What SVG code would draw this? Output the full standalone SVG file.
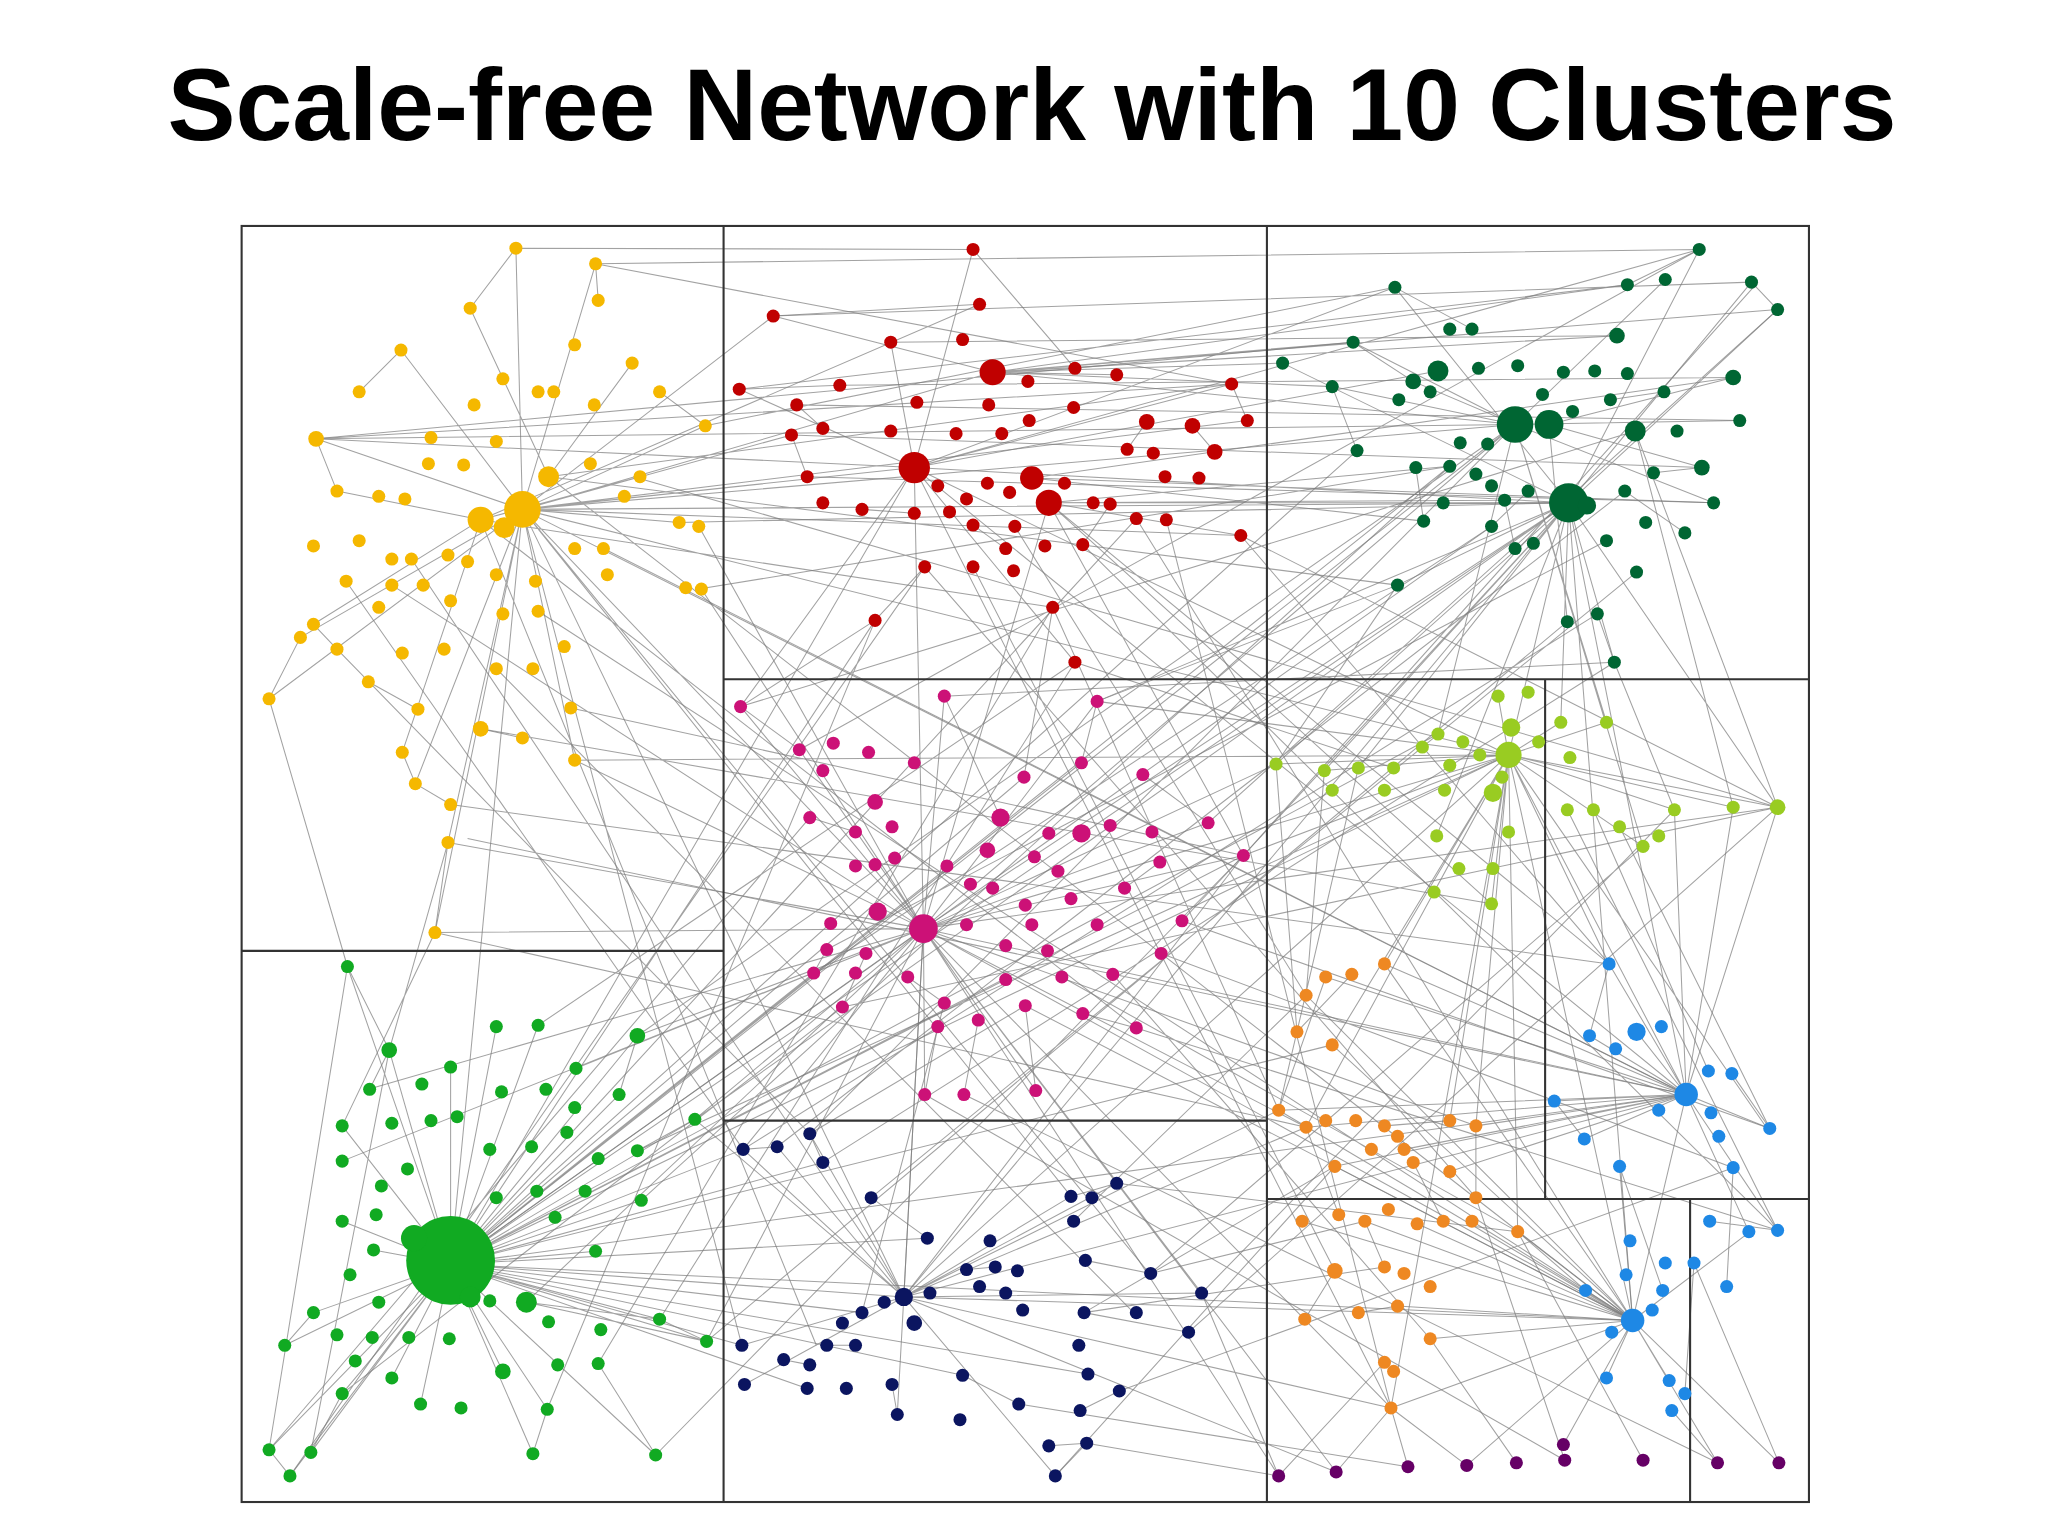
<svg xmlns="http://www.w3.org/2000/svg" width="2048" height="1536" viewBox="0 0 2048 1536">
<style>
.e{fill:none;stroke:#7a7a7a;stroke-width:0.8;stroke-opacity:0.7}
.b{fill:none;stroke:#333;stroke-width:1.6}
.y circle{fill:#f5b800}.r circle{fill:#c00000}.dg circle{fill:#006633}.m circle{fill:#cc1177}
.lg circle{fill:#99cc22}.o circle{fill:#ee8822}.bl circle{fill:#1e88e5}.p circle{fill:#660066}
.g circle{fill:#11aa22}.n circle{fill:#0b1560}
</style>
<rect width="2048" height="1536" fill="#fff"/>
<text x="1032" y="140" text-anchor="middle" font-family="Liberation Sans, Arial, sans-serif" font-weight="bold" font-size="102" fill="#000">Scale-free Network with 10 Clusters</text>
<g transform="scale(1.3061)">
<g id="connectors">
<path class="e" d="M400 390L395 190M400 390L456 202M400 390L307 268M400 390L242 336M400 390L540 326M400 390L206 535M400 390L333 714M400 390L343 645M400 390L700 358M400 390L760 285M400 390L707 711M400 390L345 968M400 390L1201 385M400 390L1160 325M400 390L692 993M400 390L1155 578M400 390L820 916M400 390L568 1030M400 390L440 582M400 390L230 488M400 390L520 400M400 390L955 322M400 390L1291 838M400 390L880 975M400 390L606 333M400 390L950 410M400 390L318 600M400 390L592 242M368 398L258 376M368 398L240 478M368 398L308 576M368 398L490 365M368 398L750 233M368 398L806 465M368 398L625 1030M368 398L870 787M420 365L360 236M420 365L484 278M420 365L943 294M420 365L1250 1011M420 365L1070 448M242 336L700 358M242 336L1036 262M395 190L745 191M456 202L943 294M206 535L266 740M333 714L262 862M343 645L298 804"/>
<path class="e" d="M700 358L566 298M700 358L745 191M700 358L682 262M700 358L943 294M700 358L1068 220M700 358L1301 191M700 358L1101 284M700 358L1201 385M700 358L707 711M700 358L1155 578M700 358L567 541M700 358L823 507M700 358L1291 838M700 358L345 968M700 358L1065 1078M760 285L592 242M760 285L855 287M760 285L1160 325M760 285L1246 218M760 285L1361 237M760 285L982 278M760 285L1020 296M760 285L1036 262M760 285L1238 257M803 385L950 410M803 385L1110 357M803 385L1152 383M803 385L1201 385M803 385L707 711M803 385L1142 692M803 385L1232 738M803 385L952 655M790 366L1090 399M790 366L1312 385M790 366L1327 289M823 507L1067 588M670 475L567 541M806 465L784 595"/>
<path class="e" d="M1201 385L1301 191M1201 385L1341 216M1201 385L1068 220M1201 385L1236 507M1201 385L1070 448M1201 385L982 278M1201 385L1155 578M1201 385L1291 838M1201 385L1250 1011M1201 385L707 711M1201 385L345 968M1201 385L692 993M1201 385L1195 553M1201 385L977 585M1201 385L1361 618M1201 385L1040 588M1201 385L1014 590M1201 385L1100 640M1201 385L952 655M1201 385L840 537M1201 385L1361 237M1160 325L1275 214M1160 325L1036 262M1160 325L1082 292M1160 325L1332 322M1160 325L1312 385M1160 325L1020 296M1160 325L707 711M1160 325L345 968M1160 325L620 868M1160 325L1230 553M1160 325L1258 648M1160 325L1101 562M1186 325L1303 358M1186 325L1327 289M1186 325L1200 476M1252 330L1361 618M1252 330L1327 618M1236 507L1282 620M1070 448L977 585"/>
<path class="e" d="M707 711L567 541M707 711L723 533M707 711L840 537M707 711L612 574M707 711L952 655M707 711L925 630M707 711L708 838M707 711L793 835M707 711L569 880M707 711L855 906M707 711L345 968M707 711L1155 578M707 711L1291 838M707 711L1250 1011M707 711L1065 1078M707 711L977 585M707 711L441 818M707 711L532 857M707 711L488 793M707 711L403 997M707 711L692 993M707 711L920 990M707 711L1000 863M707 711L541 1027M707 711L1361 618M707 711L1130 862M707 711L282 834M707 711L262 889M707 711L1023 1127M707 711L979 1130M707 711L333 714M707 711L343 645M707 711L440 582M707 711L537 451M707 711L535 403"/>
<path class="e" d="M345 968L266 740M345 968L298 804M345 968L345 817M345 968L380 786M345 968L412 785M345 968L488 793M345 968L532 857M345 968L262 862M345 968L262 935M345 968L240 1005M345 968L218 1030M345 968L206 1110M345 968L222 1130M345 968L238 1112M345 968L408 1113M345 968L502 1114M345 968L541 1027M345 968L505 1010M345 968L262 1067M345 968L419 1079M345 968L491 919M345 968L569 880M345 968L630 890M345 968L568 1030M345 968L692 993M345 968L784 595M345 968L952 655M345 968L1155 578M345 968L1291 838M345 968L1250 1011M345 968L828 584M345 968L870 397M345 968L1039 345M345 968L1110 357M345 968L1142 403M345 968L1101 562M345 968L1020 800M345 968L833 1052M345 968L737 1053M345 968L618 1063M345 968L660 1005M345 968L710 948M345 968L770 750M345 968L623 745M345 968L456 958M345 968L474 838M345 968L300 1055M345 968L322 1075M345 968L385 1050M345 968L286 957M403 997L541 1027M403 997L505 1010M266 740L206 1110M298 804L238 1112"/>
<path class="e" d="M692 993L569 880M692 993L595 878M692 993L620 868M692 993L820 916M692 993L855 906M692 993L920 990M692 993L808 1130M692 993L570 1060M692 993L568 1030M692 993L687 1083M692 993L1065 1078M692 993L1155 578M692 993L1291 838M692 993L1250 1011M692 993L1023 1127M692 993L1000 863M692 993L979 850M692 993L532 857M692 993L952 655M692 993L707 711M830 1005L1022 893M830 1005L1060 970M830 1005L910 1020M822 935L1000 762M881 975L1045 935M920 990L979 1130M855 906L1162 943M620 868L785 770M660 1005L723 768M780 1075L1078 1123M832 1105L979 1130"/>
<path class="e" d="M1155 578L1147 533M1155 578L1195 553M1155 578L1230 553M1155 578L977 585M1155 578L1014 590M1155 578L1361 618M1155 578L1327 618M1155 578L1142 692M1155 578L1098 683M1155 578L1060 738M1155 578L1291 838M1155 578L1250 1011M1155 578L1065 1078M1155 578L1130 862M1155 578L1000 863M1155 578L1232 738M1155 578L952 655M1155 578L840 537M1155 578L1282 620M1155 578L1258 648M1155 578L1353 864M1155 578L1162 943M1155 578L1020 800M1155 578L1110 858M1200 620L1361 942M1240 633L1355 864M1220 620L1308 820M977 585L993 790M1014 590L1000 762M1040 588L979 850"/>
<path class="e" d="M1291 838L1232 738M1291 838L1217 793M1291 838L1253 790M1291 838L1190 843M1291 838L1213 872M1291 838L1355 864M1291 838L1361 942M1291 838L1339 943M1291 838L1250 1011M1291 838L1130 862M1291 838L1110 897M1291 838L1075 880M1291 838L1022 893M1291 838L1000 863M1291 838L979 850M1291 838L1015 748M1291 838L1060 738M1291 838L1361 618M1291 838L1327 618M1291 838L1282 620M1250 1011L1214 988M1250 1011L1230 1055M1250 1011L1278 1057M1250 1011L1162 943M1250 1011L1127 935M1250 1011L1085 937M1250 1011L1045 935M1250 1011L1022 893M1250 1011L979 850M1250 1011L997 935M1250 1011L1123 1122M1250 1011L1197 1106M1250 1011L1315 1120M1250 1011L1362 1120M1250 1011L1340 943M1250 1011L1240 893M1250 1011L1060 738M1250 1011L1000 762M1250 1011L1020 800M1250 1011L1070 1000M1250 1011L1095 1025M1250 1011L1065 1078"/>
<path class="e" d="M1060 1043L979 1130M1065 1078L1023 1127M1065 1078L1078 1123M1065 1078L1123 1122M1095 1025L1161 1120M1130 917L1198 1118M1162 943L1258 1118M1280 1080L1315 1120M1297 967L1362 1120M1309 935L1361 942M1022 973L999 1010M1040 1005L1070 1000M1025 930L1000 863M979 850L1015 748M993 790L1035 746M1060 862L1110 858M1130 862L1130 917M1082 890L1105 935M1045 935L1060 970M1162 943L1214 988M1240 893L1273 988M1327 894L1322 985M1297 967L1290 1067M1190 843L1213 872M1217 793L1232 738M1326 822L1355 864"/>
<path class="e" d="M592 242L750 233M745 191L823 282M566 298L643 295M943 294L955 322M913 326L930 346M878 323L863 344M610 310L630 328M606 333L618 365M660 390L700 393M745 402L770 420M829 417L850 386M708 434L670 475M1068 220L1127 252M1246 218L1301 191M1341 216L1361 237M1036 262L1082 292M1020 296L1039 345M1084 358L1090 399M1266 362L1303 358M1244 376L1290 408M1223 470L1236 507M1142 403L1170 376M1152 383L1160 420M1233 306L1274 300"/>
<path class="e" d="M567 541L612 574M723 533L766 626M840 537L828 584M875 593L925 630M620 626L655 637M952 655L905 705M888 660L861 680M633 727L623 745M645 771L663 730M708 838L718 786M793 835L785 770M829 776L870 787M738 838L749 781M695 748L723 768M569 880L595 878M620 868L630 890M667 917L710 948M820 916L855 906M831 965L881 975M740 972L762 970M600 1041L620 1045M633 1030L655 1030M737 1053L780 1075M803 1107L832 1105M808 1130L832 1105M683 1060L687 1083M827 1080L857 1065"/>
<path class="e" d="M395 190L360 236M456 202L458 230M307 268L275 300M242 336L258 376M505 300L540 326M206 535L230 488M240 478L258 497M282 522L320 543M368 558L400 565M308 576L318 600M318 600L345 616M343 645L333 714M266 740L298 804M298 804L283 834M488 793L474 838M532 857L488 881M541 1027L505 1010M206 1110L222 1130M238 1112L262 1067M408 1113L419 1079M502 1114L458 1044M218 1030L240 1005"/>
<path class="e" d="M242 336L1160 325M242 336L943 294M456 202L1301 191M540 326L1068 220M520 400L1201 385M535 451L1110 357M440 582L1155 578M437 542L952 655M368 558L1142 692M345 616L1232 738M333 714L1000 863M358 642L1291 838M300 448L707 711M265 445L569 880M315 428L692 993M258 497L620 868M380 512L868 1005M412 468L1250 1011M462 420L1291 838M485 365L1361 618M566 298L1246 218M592 242L1341 216M643 295L1327 289M610 310L1332 322M682 262L1238 257M606 333L1303 358M618 365L1312 385M950 410L1361 618M950 410L1232 738M893 398L1065 1078M870 397L1250 1011M829 417L1361 942M806 465L979 850M777 403L1000 762M745 434L1022 973M708 434L1130 917M670 475L345 968M823 507L412 785M567 541L1252 330M723 533L1236 507M840 537L1070 448M612 574L1301 191M925 630L1361 237M952 655L1346 216M905 705L1355 864M889 730L1327 894M870 787L1361 942M852 746L1095 1025M813 748L1162 943M785 770L1250 1011M738 838L1315 1120M708 838L1198 1118M645 771L1361 618M623 745L1142 403M633 727L1230 414M532 857L1201 385M488 793L1160 325M488 881L1155 578M491 919L1110 357M541 1027L1200 476M505 1010L823 507M458 1044L806 465M419 1079L670 475M502 1114L952 655M222 1130L708 434M206 1110L620 626M262 1067L645 771M569 880L1223 470M595 878L1244 376M630 890L1236 507M667 917L1253 438M910 1020L1361 618M920 990L1282 620M881 975L1258 648M857 1065L1327 894M808 1130L1022 893"/>
</g>
<g id="frames">
<rect class="b" x="185" y="173" width="1200" height="977"/>
<path class="b" d="M554 173V1150M970 173V1150M185 728H554M554 520H1385M554 858H970M1183 520V918M970 918H1385M1294 918V1150"/>
</g>
<g id="cluster-yellow" class="y">
<circle cx="400" cy="390" r="14"/><circle cx="368" cy="398" r="10"/><circle cx="420" cy="365" r="8"/><circle cx="386" cy="404" r="8"/>
<circle cx="395" cy="190" r="5"/><circle cx="456" cy="202" r="5"/><circle cx="360" cy="236" r="5"/><circle cx="458" cy="230" r="5"/><circle cx="307" cy="268" r="5"/><circle cx="440" cy="264" r="5"/><circle cx="484" cy="278" r="5"/><circle cx="275" cy="300" r="5"/><circle cx="385" cy="290" r="5"/><circle cx="412" cy="300" r="5"/><circle cx="424" cy="300" r="5"/><circle cx="363" cy="310" r="5"/><circle cx="455" cy="310" r="5"/><circle cx="505" cy="300" r="5"/><circle cx="540" cy="326" r="5"/><circle cx="242" cy="336" r="6"/><circle cx="330" cy="335" r="5"/><circle cx="380" cy="338" r="5"/><circle cx="328" cy="355" r="5"/><circle cx="355" cy="356" r="5"/><circle cx="452" cy="355" r="5"/><circle cx="490" cy="365" r="5"/><circle cx="258" cy="376" r="5"/><circle cx="290" cy="380" r="5"/><circle cx="310" cy="382" r="5"/><circle cx="478" cy="380" r="5"/><circle cx="520" cy="400" r="5"/><circle cx="535" cy="403" r="5"/><circle cx="275" cy="414" r="5"/><circle cx="315" cy="428" r="5"/><circle cx="343" cy="425" r="5"/><circle cx="440" cy="420" r="5"/><circle cx="462" cy="420" r="5"/><circle cx="240" cy="418" r="5"/><circle cx="265" cy="445" r="5"/><circle cx="300" cy="448" r="5"/><circle cx="324" cy="448" r="5"/><circle cx="380" cy="440" r="5"/><circle cx="410" cy="445" r="5"/><circle cx="465" cy="440" r="5"/><circle cx="525" cy="450" r="5"/><circle cx="537" cy="451" r="5"/><circle cx="290" cy="465" r="5"/><circle cx="345" cy="460" r="5"/><circle cx="385" cy="470" r="5"/><circle cx="412" cy="468" r="5"/><circle cx="240" cy="478" r="5"/><circle cx="230" cy="488" r="5"/><circle cx="258" cy="497" r="5"/><circle cx="308" cy="500" r="5"/><circle cx="340" cy="497" r="5"/><circle cx="432" cy="495" r="5"/><circle cx="380" cy="512" r="5"/><circle cx="408" cy="512" r="5"/><circle cx="282" cy="522" r="5"/><circle cx="320" cy="543" r="5"/><circle cx="437" cy="542" r="5"/><circle cx="368" cy="558" r="6"/><circle cx="400" cy="565" r="5"/><circle cx="206" cy="535" r="5"/><circle cx="308" cy="576" r="5"/><circle cx="440" cy="582" r="5"/><circle cx="318" cy="600" r="5"/><circle cx="345" cy="616" r="5"/><circle cx="343" cy="645" r="5"/><circle cx="333" cy="714" r="5"/><circle cx="358" cy="430" r="5"/><circle cx="300" cy="428" r="5"/>
</g>
<g id="cluster-red" class="r">
<circle cx="760" cy="285" r="10"/><circle cx="700" cy="358" r="12"/><circle cx="790" cy="366" r="9"/><circle cx="803" cy="385" r="10"/>
<circle cx="745" cy="191" r="5"/><circle cx="750" cy="233" r="5"/><circle cx="592" cy="242" r="5"/><circle cx="682" cy="262" r="5"/><circle cx="737" cy="260" r="5"/><circle cx="823" cy="282" r="5"/><circle cx="855" cy="287" r="5"/><circle cx="943" cy="294" r="5"/><circle cx="566" cy="298" r="5"/><circle cx="787" cy="292" r="5"/><circle cx="643" cy="295" r="5"/><circle cx="610" cy="310" r="5"/><circle cx="702" cy="308" r="5"/><circle cx="757" cy="310" r="5"/><circle cx="788" cy="322" r="5"/><circle cx="822" cy="312" r="5"/><circle cx="878" cy="323" r="6"/><circle cx="913" cy="326" r="6"/><circle cx="955" cy="322" r="5"/><circle cx="630" cy="328" r="5"/><circle cx="682" cy="330" r="5"/><circle cx="732" cy="332" r="5"/><circle cx="767" cy="332" r="5"/><circle cx="863" cy="344" r="5"/><circle cx="883" cy="347" r="5"/><circle cx="930" cy="346" r="6"/><circle cx="606" cy="333" r="5"/><circle cx="718" cy="372" r="5"/><circle cx="756" cy="370" r="5"/><circle cx="773" cy="377" r="5"/><circle cx="740" cy="382" r="5"/><circle cx="815" cy="370" r="5"/><circle cx="837" cy="385" r="5"/><circle cx="850" cy="386" r="5"/><circle cx="892" cy="365" r="5"/><circle cx="918" cy="366" r="5"/><circle cx="618" cy="365" r="5"/><circle cx="630" cy="385" r="5"/><circle cx="660" cy="390" r="5"/><circle cx="700" cy="393" r="5"/><circle cx="727" cy="392" r="5"/><circle cx="745" cy="402" r="5"/><circle cx="777" cy="403" r="5"/><circle cx="870" cy="397" r="5"/><circle cx="893" cy="398" r="5"/><circle cx="950" cy="410" r="5"/><circle cx="770" cy="420" r="5"/><circle cx="800" cy="418" r="5"/><circle cx="829" cy="417" r="5"/><circle cx="708" cy="434" r="5"/><circle cx="745" cy="434" r="5"/><circle cx="776" cy="437" r="5"/><circle cx="670" cy="475" r="5"/><circle cx="806" cy="465" r="5"/><circle cx="823" cy="507" r="5"/>
</g>
<g id="cluster-darkgreen" class="dg">
<circle cx="1160" cy="325" r="14"/><circle cx="1186" cy="325" r="11"/><circle cx="1201" cy="385" r="15"/><circle cx="1215" cy="387" r="7"/><circle cx="1101" cy="284" r="8"/><circle cx="1252" cy="330" r="8"/>
<circle cx="1301" cy="191" r="5"/><circle cx="1068" cy="220" r="5"/><circle cx="1246" cy="218" r="5"/><circle cx="1275" cy="214" r="5"/><circle cx="1341" cy="216" r="5"/><circle cx="1361" cy="237" r="5"/><circle cx="1110" cy="252" r="5"/><circle cx="1127" cy="252" r="5"/><circle cx="1036" cy="262" r="5"/><circle cx="1238" cy="257" r="6"/><circle cx="982" cy="278" r="5"/><circle cx="1132" cy="282" r="5"/><circle cx="1162" cy="280" r="5"/><circle cx="1197" cy="285" r="5"/><circle cx="1221" cy="284" r="5"/><circle cx="1246" cy="286" r="5"/><circle cx="1082" cy="292" r="6"/><circle cx="1327" cy="289" r="6"/><circle cx="1020" cy="296" r="5"/><circle cx="1071" cy="306" r="5"/><circle cx="1095" cy="300" r="5"/><circle cx="1181" cy="302" r="5"/><circle cx="1204" cy="315" r="5"/><circle cx="1233" cy="306" r="5"/><circle cx="1274" cy="300" r="5"/><circle cx="1332" cy="322" r="5"/><circle cx="1284" cy="330" r="5"/><circle cx="1039" cy="345" r="5"/><circle cx="1118" cy="339" r="5"/><circle cx="1139" cy="340" r="5"/><circle cx="1084" cy="358" r="5"/><circle cx="1110" cy="357" r="5"/><circle cx="1142" cy="372" r="5"/><circle cx="1130" cy="363" r="5"/><circle cx="1266" cy="362" r="5"/><circle cx="1303" cy="358" r="6"/><circle cx="1090" cy="399" r="5"/><circle cx="1105" cy="385" r="5"/><circle cx="1152" cy="383" r="5"/><circle cx="1170" cy="376" r="5"/><circle cx="1244" cy="376" r="5"/><circle cx="1312" cy="385" r="5"/><circle cx="1290" cy="408" r="5"/><circle cx="1260" cy="400" r="5"/><circle cx="1142" cy="403" r="5"/><circle cx="1160" cy="420" r="5"/><circle cx="1174" cy="416" r="5"/><circle cx="1230" cy="414" r="5"/><circle cx="1070" cy="448" r="5"/><circle cx="1253" cy="438" r="5"/><circle cx="1223" cy="470" r="5"/><circle cx="1200" cy="476" r="5"/><circle cx="1236" cy="507" r="5"/>
</g>
<g id="cluster-magenta" class="m">
<circle cx="707" cy="711" r="11"/><circle cx="766" cy="626" r="7"/><circle cx="828" cy="638" r="7"/><circle cx="672" cy="698" r="7"/><circle cx="756" cy="651" r="6"/>
<circle cx="567" cy="541" r="5"/><circle cx="723" cy="533" r="5"/><circle cx="840" cy="537" r="5"/><circle cx="612" cy="574" r="5"/><circle cx="638" cy="569" r="5"/><circle cx="665" cy="576" r="5"/><circle cx="630" cy="590" r="5"/><circle cx="700" cy="584" r="5"/><circle cx="784" cy="595" r="5"/><circle cx="828" cy="584" r="5"/><circle cx="875" cy="593" r="5"/><circle cx="670" cy="614" r="6"/><circle cx="620" cy="626" r="5"/><circle cx="655" cy="637" r="5"/><circle cx="683" cy="633" r="5"/><circle cx="803" cy="638" r="5"/><circle cx="850" cy="632" r="5"/><circle cx="882" cy="637" r="5"/><circle cx="925" cy="630" r="5"/><circle cx="655" cy="663" r="5"/><circle cx="670" cy="662" r="5"/><circle cx="685" cy="657" r="5"/><circle cx="792" cy="656" r="5"/><circle cx="810" cy="667" r="5"/><circle cx="725" cy="663" r="5"/><circle cx="888" cy="660" r="5"/><circle cx="952" cy="655" r="5"/><circle cx="743" cy="677" r="5"/><circle cx="760" cy="680" r="5"/><circle cx="861" cy="680" r="5"/><circle cx="785" cy="693" r="5"/><circle cx="820" cy="688" r="5"/><circle cx="636" cy="707" r="5"/><circle cx="740" cy="708" r="5"/><circle cx="790" cy="708" r="5"/><circle cx="840" cy="708" r="5"/><circle cx="905" cy="705" r="5"/><circle cx="633" cy="727" r="5"/><circle cx="663" cy="730" r="5"/><circle cx="770" cy="724" r="5"/><circle cx="802" cy="728" r="5"/><circle cx="889" cy="730" r="5"/><circle cx="623" cy="745" r="5"/><circle cx="655" cy="745" r="5"/><circle cx="695" cy="748" r="5"/><circle cx="770" cy="750" r="5"/><circle cx="813" cy="748" r="5"/><circle cx="852" cy="746" r="5"/><circle cx="645" cy="771" r="5"/><circle cx="723" cy="768" r="5"/><circle cx="749" cy="781" r="5"/><circle cx="785" cy="770" r="5"/><circle cx="718" cy="786" r="5"/><circle cx="870" cy="787" r="5"/><circle cx="829" cy="776" r="5"/><circle cx="708" cy="838" r="5"/><circle cx="738" cy="838" r="5"/><circle cx="793" cy="835" r="5"/>
</g>
<g id="cluster-lightgreen" class="lg">
<circle cx="1155" cy="578" r="10"/><circle cx="1143" cy="607" r="7"/><circle cx="1157" cy="557" r="7"/>
<circle cx="1147" cy="533" r="5"/><circle cx="1170" cy="530" r="5"/><circle cx="1195" cy="553" r="5"/><circle cx="1230" cy="553" r="5"/><circle cx="1101" cy="562" r="5"/><circle cx="1120" cy="568" r="5"/><circle cx="1089" cy="572" r="5"/><circle cx="1133" cy="578" r="5"/><circle cx="1178" cy="568" r="5"/><circle cx="1202" cy="580" r="5"/><circle cx="977" cy="585" r="5"/><circle cx="1014" cy="590" r="5"/><circle cx="1040" cy="588" r="5"/><circle cx="1067" cy="588" r="5"/><circle cx="1110" cy="586" r="5"/><circle cx="1150" cy="595" r="5"/><circle cx="1020" cy="605" r="5"/><circle cx="1060" cy="605" r="5"/><circle cx="1106" cy="605" r="5"/><circle cx="1200" cy="620" r="5"/><circle cx="1220" cy="620" r="5"/><circle cx="1240" cy="633" r="5"/><circle cx="1258" cy="648" r="5"/><circle cx="1270" cy="640" r="5"/><circle cx="1282" cy="620" r="5"/><circle cx="1327" cy="618" r="5"/><circle cx="1361" cy="618" r="6"/><circle cx="1100" cy="640" r="5"/><circle cx="1155" cy="637" r="5"/><circle cx="1117" cy="665" r="5"/><circle cx="1143" cy="665" r="5"/><circle cx="1098" cy="683" r="5"/><circle cx="1142" cy="692" r="5"/>
</g>
<g id="cluster-orange" class="o">
<circle cx="1015" cy="748" r="5"/><circle cx="1035" cy="746" r="5"/><circle cx="1060" cy="738" r="5"/><circle cx="1000" cy="762" r="5"/><circle cx="993" cy="790" r="5"/><circle cx="1020" cy="800" r="5"/><circle cx="979" cy="850" r="5"/><circle cx="1000" cy="863" r="5"/><circle cx="1015" cy="858" r="5"/><circle cx="1038" cy="858" r="5"/><circle cx="1060" cy="862" r="5"/><circle cx="1050" cy="880" r="5"/><circle cx="1075" cy="880" r="5"/><circle cx="1110" cy="858" r="5"/><circle cx="1130" cy="862" r="5"/><circle cx="1070" cy="870" r="5"/><circle cx="1022" cy="893" r="5"/><circle cx="1082" cy="890" r="5"/><circle cx="1110" cy="897" r="5"/><circle cx="1130" cy="917" r="5"/><circle cx="1025" cy="930" r="5"/><circle cx="997" cy="935" r="5"/><circle cx="1045" cy="935" r="5"/><circle cx="1063" cy="926" r="5"/><circle cx="1085" cy="937" r="5"/><circle cx="1105" cy="935" r="5"/><circle cx="1127" cy="935" r="5"/><circle cx="1162" cy="943" r="5"/><circle cx="1022" cy="973" r="6"/><circle cx="1060" cy="970" r="5"/><circle cx="1075" cy="975" r="5"/><circle cx="1095" cy="985" r="5"/><circle cx="1040" cy="1005" r="5"/><circle cx="1070" cy="1000" r="5"/><circle cx="999" cy="1010" r="5"/><circle cx="1095" cy="1025" r="5"/><circle cx="1060" cy="1043" r="5"/><circle cx="1067" cy="1050" r="5"/><circle cx="1065" cy="1078" r="5"/>
</g>
<g id="cluster-blue" class="bl">
<circle cx="1291" cy="838" r="9"/><circle cx="1250" cy="1011" r="9"/><circle cx="1253" cy="790" r="7"/>
<circle cx="1232" cy="738" r="5"/><circle cx="1217" cy="793" r="5"/><circle cx="1272" cy="786" r="5"/><circle cx="1237" cy="803" r="5"/><circle cx="1308" cy="820" r="5"/><circle cx="1326" cy="822" r="5"/><circle cx="1190" cy="843" r="5"/><circle cx="1270" cy="850" r="5"/><circle cx="1310" cy="852" r="5"/><circle cx="1355" cy="864" r="5"/><circle cx="1213" cy="872" r="5"/><circle cx="1316" cy="870" r="5"/><circle cx="1240" cy="893" r="5"/><circle cx="1327" cy="894" r="5"/><circle cx="1339" cy="943" r="5"/><circle cx="1361" cy="942" r="5"/><circle cx="1309" cy="935" r="5"/><circle cx="1248" cy="950" r="5"/><circle cx="1275" cy="967" r="5"/><circle cx="1297" cy="967" r="5"/><circle cx="1245" cy="976" r="5"/><circle cx="1214" cy="988" r="5"/><circle cx="1273" cy="988" r="5"/><circle cx="1322" cy="985" r="5"/><circle cx="1265" cy="1003" r="5"/><circle cx="1234" cy="1020" r="5"/><circle cx="1230" cy="1055" r="5"/><circle cx="1278" cy="1057" r="5"/><circle cx="1290" cy="1067" r="5"/><circle cx="1280" cy="1080" r="5"/>
</g>
<g id="cluster-purple" class="p">
<circle cx="979" cy="1130" r="5"/><circle cx="1023" cy="1127" r="5"/><circle cx="1078" cy="1123" r="5"/><circle cx="1123" cy="1122" r="5"/><circle cx="1161" cy="1120" r="5"/><circle cx="1197" cy="1106" r="5"/><circle cx="1198" cy="1118" r="5"/><circle cx="1258" cy="1118" r="5"/><circle cx="1315" cy="1120" r="5"/><circle cx="1362" cy="1120" r="5"/>
</g>
<g id="cluster-green" class="g">
<circle cx="345" cy="965" r="34"/><circle cx="317" cy="948" r="10"/><circle cx="360" cy="993" r="8"/><circle cx="403" cy="997" r="8"/><circle cx="375" cy="996" r="5"/>
<circle cx="266" cy="740" r="5"/><circle cx="298" cy="804" r="6"/><circle cx="345" cy="817" r="5"/><circle cx="380" cy="786" r="5"/><circle cx="412" cy="785" r="5"/><circle cx="441" cy="818" r="5"/><circle cx="488" cy="793" r="6"/><circle cx="283" cy="834" r="5"/><circle cx="323" cy="830" r="5"/><circle cx="350" cy="855" r="5"/><circle cx="384" cy="836" r="5"/><circle cx="418" cy="834" r="5"/><circle cx="440" cy="848" r="5"/><circle cx="474" cy="838" r="5"/><circle cx="532" cy="857" r="5"/><circle cx="262" cy="862" r="5"/><circle cx="300" cy="860" r="5"/><circle cx="330" cy="858" r="5"/><circle cx="375" cy="880" r="5"/><circle cx="407" cy="878" r="5"/><circle cx="434" cy="867" r="5"/><circle cx="488" cy="881" r="5"/><circle cx="458" cy="887" r="5"/><circle cx="262" cy="889" r="5"/><circle cx="292" cy="908" r="5"/><circle cx="312" cy="895" r="5"/><circle cx="380" cy="917" r="5"/><circle cx="411" cy="912" r="5"/><circle cx="448" cy="912" r="5"/><circle cx="491" cy="919" r="5"/><circle cx="262" cy="935" r="5"/><circle cx="288" cy="930" r="5"/><circle cx="425" cy="932" r="5"/><circle cx="456" cy="958" r="5"/><circle cx="286" cy="957" r="5"/><circle cx="268" cy="976" r="5"/><circle cx="290" cy="997" r="5"/><circle cx="240" cy="1005" r="5"/><circle cx="258" cy="1022" r="5"/><circle cx="285" cy="1024" r="5"/><circle cx="313" cy="1024" r="5"/><circle cx="344" cy="1025" r="5"/><circle cx="420" cy="1012" r="5"/><circle cx="460" cy="1018" r="5"/><circle cx="505" cy="1010" r="5"/><circle cx="541" cy="1027" r="5"/><circle cx="218" cy="1030" r="5"/><circle cx="272" cy="1042" r="5"/><circle cx="300" cy="1055" r="5"/><circle cx="385" cy="1050" r="6"/><circle cx="427" cy="1045" r="5"/><circle cx="458" cy="1044" r="5"/><circle cx="262" cy="1067" r="5"/><circle cx="322" cy="1075" r="5"/><circle cx="353" cy="1078" r="5"/><circle cx="419" cy="1079" r="5"/><circle cx="206" cy="1110" r="5"/><circle cx="238" cy="1112" r="5"/><circle cx="222" cy="1130" r="5"/><circle cx="408" cy="1113" r="5"/><circle cx="502" cy="1114" r="5"/>
</g>
<g id="cluster-navy" class="n">
<circle cx="692" cy="993" r="7"/><circle cx="700" cy="1013" r="6"/>
<circle cx="569" cy="880" r="5"/><circle cx="595" cy="878" r="5"/><circle cx="620" cy="868" r="5"/><circle cx="630" cy="890" r="5"/><circle cx="667" cy="917" r="5"/><circle cx="820" cy="916" r="5"/><circle cx="855" cy="906" r="5"/><circle cx="836" cy="917" r="5"/><circle cx="822" cy="935" r="5"/><circle cx="710" cy="948" r="5"/><circle cx="758" cy="950" r="5"/><circle cx="831" cy="965" r="5"/><circle cx="881" cy="975" r="5"/><circle cx="740" cy="972" r="5"/><circle cx="762" cy="970" r="5"/><circle cx="779" cy="973" r="5"/><circle cx="712" cy="990" r="5"/><circle cx="677" cy="997" r="5"/><circle cx="660" cy="1005" r="5"/><circle cx="750" cy="985" r="5"/><circle cx="770" cy="990" r="5"/><circle cx="783" cy="1003" r="5"/><circle cx="920" cy="990" r="5"/><circle cx="645" cy="1013" r="5"/><circle cx="830" cy="1005" r="5"/><circle cx="870" cy="1005" r="5"/><circle cx="633" cy="1030" r="5"/><circle cx="655" cy="1030" r="5"/><circle cx="568" cy="1030" r="5"/><circle cx="600" cy="1041" r="5"/><circle cx="620" cy="1045" r="5"/><circle cx="826" cy="1030" r="5"/><circle cx="910" cy="1020" r="5"/><circle cx="737" cy="1053" r="5"/><circle cx="833" cy="1052" r="5"/><circle cx="570" cy="1060" r="5"/><circle cx="618" cy="1063" r="5"/><circle cx="648" cy="1063" r="5"/><circle cx="683" cy="1060" r="5"/><circle cx="780" cy="1075" r="5"/><circle cx="857" cy="1065" r="5"/><circle cx="687" cy="1083" r="5"/><circle cx="735" cy="1087" r="5"/><circle cx="827" cy="1080" r="5"/><circle cx="803" cy="1107" r="5"/><circle cx="832" cy="1105" r="5"/><circle cx="808" cy="1130" r="5"/>
</g>
</g>
</svg>
